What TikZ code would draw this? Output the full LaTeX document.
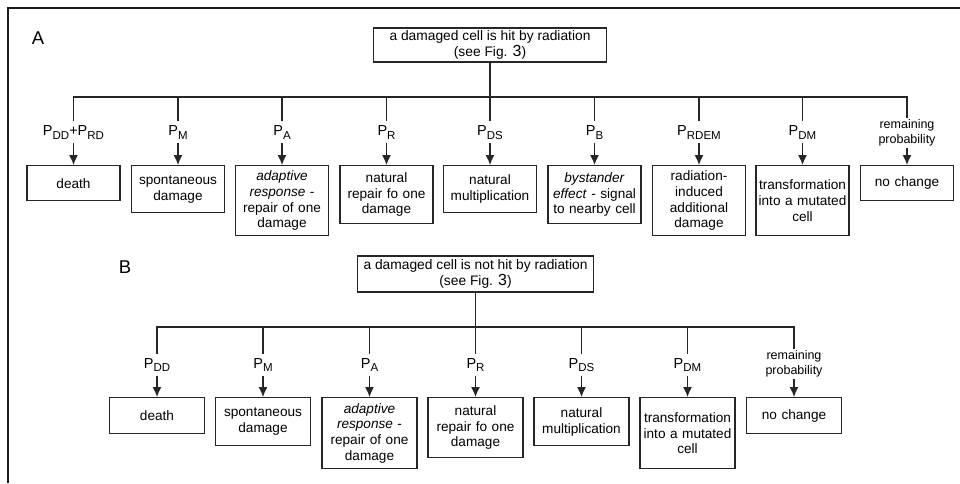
\documentclass[tikz,border=0pt]{standalone}
\usepackage{fontspec}
\setmainfont{Liberation Sans}
\usetikzlibrary{arrows.meta}
\newcommand\sbx[1]{\raisebox{-3.5pt}{\fontsize{11.5}{12}\selectfont #1}}
\begin{document}
\begin{tikzpicture}[x=1pt,y=-1pt,
  ln/.style={draw=black!85, line width=1.25pt},
  arr/.style={ln, -{Latex[length=10pt,width=9pt]}},
  cbox/.style={draw=black!85, line width=1.4pt, anchor=north, align=center, inner xsep=2pt, inner ysep=2pt, font=\fontsize{13.6}{15.7}\selectfont},
  boxA/.style={cbox, text width=89pt},
  boxB/.style={cbox, text width=91pt},
  topbox/.style={draw=black!85, line width=1.4pt, align=center, inner sep=1pt, font=\fontsize{13.8}{16.5}\selectfont},
  lab/.style={anchor=base, inner xsep=1pt, inner ysep=4pt, font=\fontsize{14.5}{16}\selectfont},
  rem/.style={align=center, inner sep=2pt, font=\fontsize{12.5}{14.5}\selectfont},
  panel/.style={font=\fontsize{18.5}{20}\selectfont, inner sep=0pt}
]
\useasboundingbox (0,0) rectangle (960,483);
% frame
\coordinate (f1) at (8,483);
\coordinate (f2) at (8,8);
\coordinate (f3) at (960,8);
\draw[line width=1.8pt, black!90] (f1) -- (f2) -- (f3);

% ---------------- Panel A ----------------
\node[panel] (pA) at (38,38.5) {A};
\node[topbox, minimum width=233pt, minimum height=34pt] (topA) at (490,45)
  {a damaged cell is hit by radiation\\(see Fig. {\fontsize{16}{16}\selectfont 3})};

\foreach \i/\x in {1/73.5,2/178,3/282,4/386.5,5/490,6/594.5,7/699,8/802.5,9/907}
  \coordinate (bA\i) at (\x,97);

\node[lab] (lA1) at (73.5,135.5) {P\sbx{DD}+P\sbx{RD}};
\node[lab] (lA2) at (178,135.5) {P\sbx{M}};
\node[lab] (lA3) at (282,135.5) {P\sbx{A}};
\node[lab] (lA4) at (386.5,135.5) {P\sbx{R}};
\node[lab] (lA5) at (490,135.5) {P\sbx{DS}};
\node[lab] (lA6) at (594.5,135.5) {P\sbx{B}};
\node[lab] (lA7) at (699,135.5) {P\sbx{RDEM}};
\node[lab] (lA8) at (802.5,135.5) {P\sbx{DM}};
\node[rem] (lA9) at (907,133) {remaining\\probability};

\node[boxA, minimum height=35pt] (xA1) at (73.5,165) {death};
\node[boxA, minimum height=47pt] (xA2) at (178,165) {spontaneous\\damage};
\node[boxA, minimum height=70pt] (xA3) at (282,165) {\textit{adaptive}\\\textit{response} -\\repair of one\\damage};
\node[boxA, minimum height=58pt] (xA4) at (386.5,165) {natural\\repair fo one\\damage};
\node[boxA, minimum height=47pt] (xA5) at (490,165) {natural\\multiplication};
\node[boxA, minimum height=58pt] (xA6) at (594.5,165) {\textit{bystander}\\\textit{effect} - signal\\to nearby cell};
\node[boxA, minimum height=70pt] (xA7) at (699,165) {radiation-\\induced\\additional\\damage};
\node[boxA, minimum height=70pt] (xA8) at (802.5,165) {transformation\\into a mutated\\cell};
\node[boxA, minimum height=35pt] (xA9) at (907,165) {no change};

\draw[ln] (topA.south) -- (bA5);
\draw[ln] (lA1.north) -- (bA1) -- (bA9) -- (lA9.north);
\foreach \i in {2,...,8} \draw[ln] (bA\i) -- (lA\i.north);
\foreach \i in {1,...,9} \draw[arr] (lA\i.south) -- (xA\i.north);

% ---------------- Panel B ----------------
\node[panel] (pB) at (125,267.5) {B};
\node[topbox, minimum width=236pt, minimum height=36pt] (topB) at (475.5,274)
  {a damaged cell is not hit by radiation\\(see Fig. {\fontsize{16}{16}\selectfont 3})};

\foreach \i/\x in {1/157,2/263,3/369.5,4/475.5,5/581.5,6/687.5,7/794}
  \coordinate (bB\i) at (\x,327);

\node[lab] (lB1) at (157,368) {P\sbx{DD}};
\node[lab] (lB2) at (263,368) {P\sbx{M}};
\node[lab] (lB3) at (369.5,368) {P\sbx{A}};
\node[lab] (lB4) at (475.5,368) {P\sbx{R}};
\node[lab] (lB5) at (581.5,368) {P\sbx{DS}};
\node[lab] (lB6) at (687.5,368) {P\sbx{DM}};
\node[rem] (lB7) at (794,364) {remaining\\probability};

\node[boxB, minimum height=36pt] (xB1) at (157,397) {death};
\node[boxB, minimum height=48pt] (xB2) at (263,397) {spontaneous\\damage};
\node[boxB, minimum height=71pt] (xB3) at (369.5,397) {\textit{adaptive}\\\textit{response} -\\repair of one\\damage};
\node[boxB, minimum height=60pt] (xB4) at (475.5,397) {natural\\repair fo one\\damage};
\node[boxB, minimum height=48pt] (xB5) at (581.5,397) {natural\\multiplication};
\node[boxB, minimum height=71pt] (xB6) at (687.5,397) {transformation\\into a mutated\\cell};
\node[boxB, minimum height=36pt] (xB7) at (794,397) {no change};

\draw[ln] (topB.south) -- (bB4);
\draw[ln] (lB1.north) -- (bB1) -- (bB7) -- (lB7.north);
\foreach \i in {2,...,6} \draw[ln] (bB\i) -- (lB\i.north);
\foreach \i in {1,...,7} \draw[arr] (lB\i.south) -- (xB\i.north);
\end{tikzpicture}
\end{document}
